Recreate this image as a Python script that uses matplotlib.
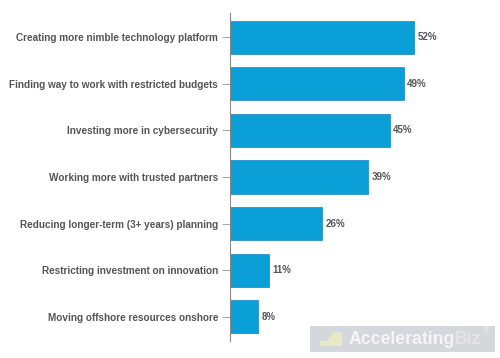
import matplotlib
matplotlib.use("Agg")
import matplotlib.pyplot as plt
from matplotlib.patches import Rectangle, Polygon

categories = [
    "Creating more nimble technology platform",
    "Finding way to work with restricted budgets",
    "Investing more in cybersecurity",
    "Working more with trusted partners",
    "Reducing longer-term (3+ years) planning",
    "Restricting investment on innovation",
    "Moving offshore resources onshore",
]
values = [52, 49, 45, 39, 26, 11, 8]
value_labels = ["52%", "49%", "45%", "39%", "26%", "11%", "8%"]

plt.rcParams['font.family'] = ['Liberation Sans', 'DejaVu Sans']

fig = plt.figure(figsize=(5, 3.58), dpi=100)
ax = fig.add_axes([0.46, 0.0475, 0.4254, 0.9162])

y = list(range(len(categories)))
ax.barh(y, values, height=0.71, color="#0a9fd7", edgecolor="#2b8fc6", linewidth=0.6)
ax.set_ylim(6.52, -0.52)
ax.set_xlim(0, 60)
ax.set_yticks(y)
ax.set_yticklabels(categories, fontsize=7.2, fontweight="bold", color="#555555")
ax.tick_params(axis="y", length=5.5, width=0.6, color="#999999", pad=3)
ax.set_xticks([])
for s in ["top", "right", "bottom"]:
    ax.spines[s].set_visible(False)
ax.spines["left"].set_color("#888888")
ax.spines["left"].set_linewidth(0.8)

for yi, v, lab in zip(y, values, value_labels):
    ax.text(v + 1.0, yi, lab, va="center", ha="left", fontsize=7.0,
            fontweight="bold", color="#555555")

# watermark
H = 358.0
W = 500.0
fig.patches.append(Rectangle((310 / W, (H - 352) / H), 185 / W, 26 / H,
                             transform=fig.transFigure, facecolor="#d4d7db",
                             edgecolor="none", zorder=5))
fig.patches.append(Polygon([(320 / W, (H - 346) / H), (342 / W, (H - 346) / H),
                            (342 / W, (H - 332) / H), (334 / W, (H - 332) / H),
                            (326 / W, (H - 341) / H), (320 / W, (H - 341) / H)],
                           closed=True, transform=fig.transFigure,
                           facecolor="#e6e9c8", edgecolor="none", zorder=6))
fig.patches.append(Polygon([(334 / W, (H - 332) / H), (342 / W, (H - 332) / H),
                            (342 / W, (H - 326 - 2) / H)],
                           closed=True, transform=fig.transFigure,
                           facecolor="#bfe0ec", edgecolor="none", zorder=6))
fig.text(349 / W, (H - 339) / H, "Accelerating", fontsize=12.7, fontweight="bold",
         color="#f4f5f6", va="center", ha="left", zorder=7)
fig.text(455 / W, (H - 339) / H, "Biz", fontsize=12.7, fontweight="bold",
         color="#e3e5e8", va="center", ha="left", zorder=7)
fig.text(484 / W, (H - 331) / H, "®", fontsize=5.5, color="#f4f5f6",
         va="center", ha="left", zorder=7)

fig.savefig("out.png", dpi=100)
